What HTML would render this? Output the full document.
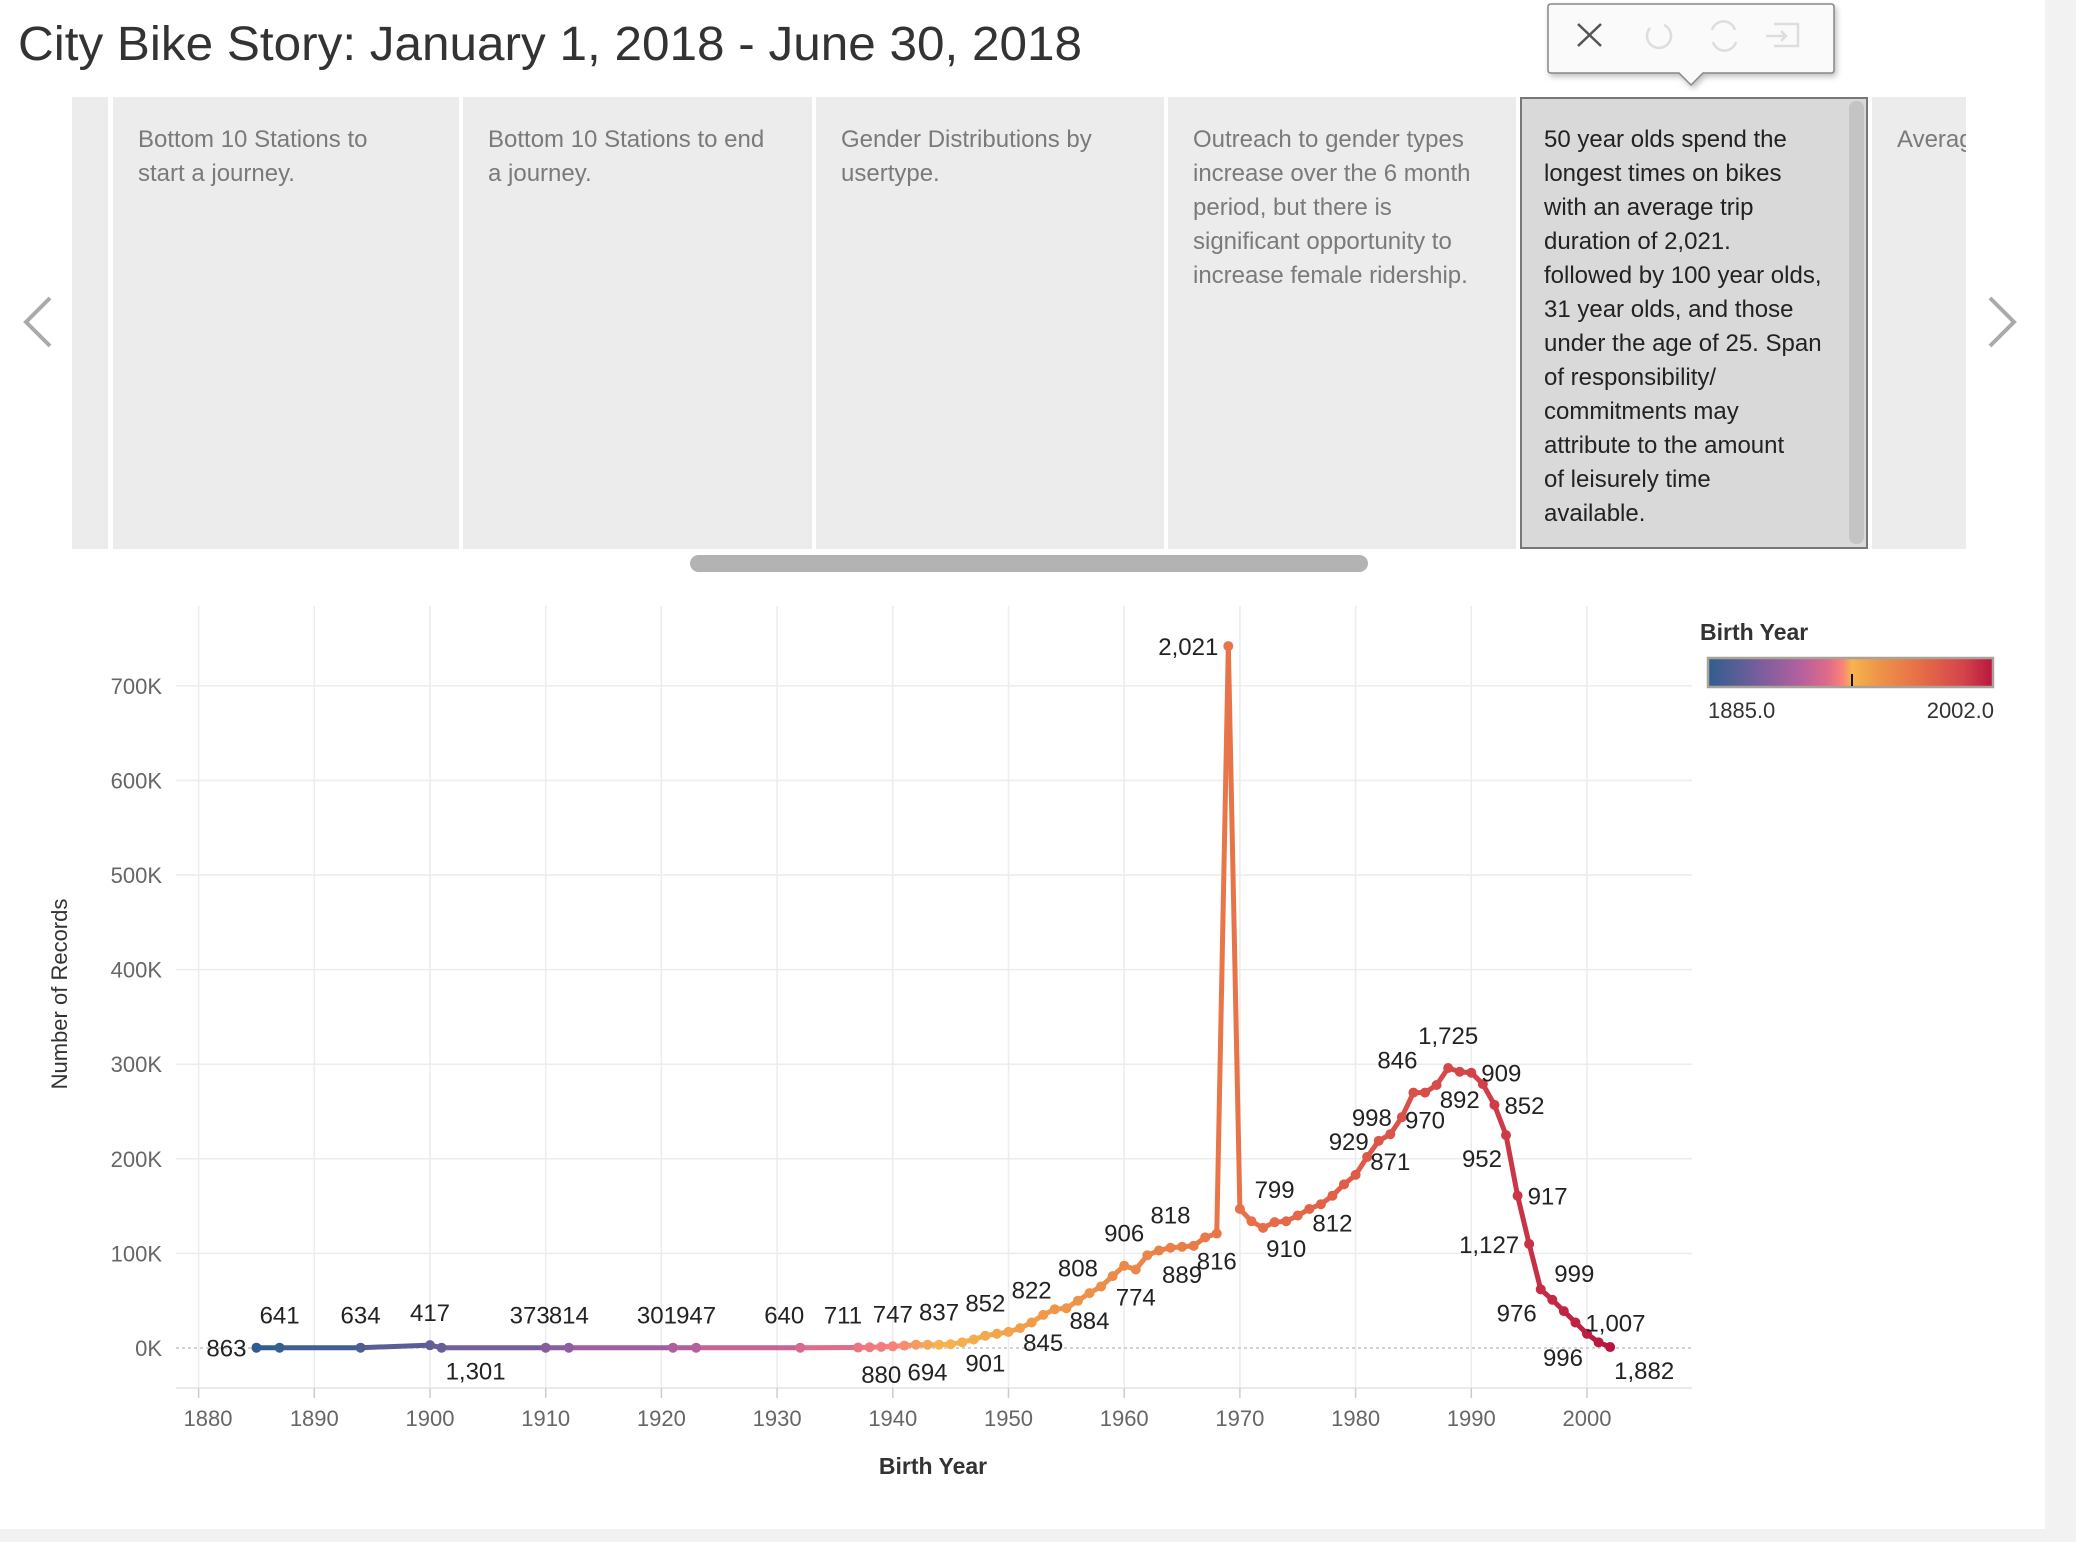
<!DOCTYPE html>
<html><head><meta charset="utf-8">
<style>
html,body{margin:0;padding:0;background:#fff;}
body{width:2076px;height:1542px;position:relative;overflow:hidden;font-family:"Liberation Sans",sans-serif;}
.abs{position:absolute;}
.panel{position:absolute;top:97px;height:452px;background:#ececec;box-sizing:border-box;padding:26px 0 0 25px;color:#7a7a7a;font-size:24px;line-height:34px;}
.sel{background:#d9d9d9;border:2px solid #777;color:#222;padding:24px 0 0 22px;}
</style></head><body>
<div class="abs" style="left:2045px;top:0;width:31px;height:1542px;background:#f2f2f2"></div>
<div class="abs" style="left:0;top:1529px;width:2076px;height:13px;background:#f2f2f2"></div>

<svg class="abs" style="left:0;top:0" width="1140" height="90">
<text x="18" y="60" font-size="48" fill="#333" textLength="1064" lengthAdjust="spacingAndGlyphs">City Bike Story: January 1, 2018 - June 30, 2018</text>
</svg>

<div class="abs" style="left:72px;top:97px;width:36px;height:452px;background:#ececec"></div>
<div class="panel" style="left:113px;width:346px">Bottom 10 Stations to<br>start a journey.</div>
<div class="panel" style="left:463px;width:349px">Bottom 10 Stations to end<br>a journey.</div>
<div class="panel" style="left:816px;width:348px">Gender Distributions by<br>usertype.</div>
<div class="panel" style="left:1168px;width:348px">Outreach to gender types<br>increase over the 6 month<br>period, but there is<br>significant opportunity to<br>increase female ridership.</div>
<div class="panel sel" style="left:1520px;width:348px">50 year olds spend the<br>longest times on bikes<br>with an average trip<br>duration of 2,021.<br>followed by 100 year olds,<br>31 year olds, and those<br>under the age of 25. Span<br>of responsibility/<br>commitments may<br>attribute to the amount<br>of leisurely time<br>available.
<div class="abs" style="left:327px;top:2px;width:15px;height:443px;background:#c4c4c4;border-radius:7px"></div></div>
<div class="panel" style="left:1872px;width:94px;overflow:hidden;white-space:nowrap">Average</div>
<div class="abs" style="left:690px;top:555px;width:678px;height:17px;background:#b3b3b3;border-radius:9px"></div>

<svg class="abs" style="left:0;top:0" width="2076" height="600">
<polyline points="50,298 26,322 50,346" fill="none" stroke="#aaa" stroke-width="4"/>
<polyline points="1990,298 2014,322 1990,346" fill="none" stroke="#aaa" stroke-width="4"/>
<g>
<path d="M1551,4 H1831 Q1834,4 1834,7 V70 Q1834,73 1831,73 H1703 L1691,85 L1679,73 H1551 Q1548,73 1548,70 V7 Q1548,4 1551,4 Z" fill="#fafafa" stroke="#888" stroke-width="1.5" style="filter:drop-shadow(2px 3px 3px rgba(0,0,0,0.25))"/>
<g stroke="#555" stroke-width="2.5"><line x1="1578" y1="24" x2="1601" y2="46"/><line x1="1601" y1="24" x2="1578" y2="46"/></g>
<path d="M1650,28 A12,12 0 1 0 1664,25" fill="none" stroke="#ddd" stroke-width="2.5"/>
<path d="M1712,30 A12,12 0 0 1 1735,30 M1736,42 A12,12 0 0 1 1713,42" fill="none" stroke="#ddd" stroke-width="2.5"/>
<path d="M1774,24 H1798 V46 H1774 M1766,36 H1786 M1781,31 L1786,36 L1781,41" fill="none" stroke="#ddd" stroke-width="2.5"/>
</g>
</svg>

<svg id="chart" class="abs" style="left:0;top:590px" width="2076" height="940"></svg>

<script>
const years = [1885,1887,1894,1900,1901,1910,1912,1921,1923,1932,1937,1938,1939,1940,1941,1942,1943,1944,1945,1946,1947,1948,1949,1950,1951,1952,1953,1954,1955,1956,1957,1958,1959,1960,1961,1962,1963,1964,1965,1966,1967,1968,1969,1970,1971,1972,1973,1974,1975,1976,1977,1978,1979,1980,1981,1982,1983,1984,1985,1986,1987,1988,1989,1990,1991,1992,1993,1994,1995,1996,1997,1998,1999,2000,2001,2002];
const records = [0.3,0.3,0.3,3,0.3,0.3,0.3,0.3,0.3,0.3,0.5,0.8,1.2,1.8,2.5,3.5,3.5,3.5,4,6,9,13,15,17,21,27,35,41,42,50,58,65,76,87,83,98,103,106,107,108,117,121,742,147,134,127,133,134,140,147,152,161,173,183,202,219,226,244,270,270,278,296,292,291,279,257,225,161,110,62,51,39,27,15,6,1];
const labelYears = [1885,1887,1894,1900,1901,1910,1912,1921,1923,1932,1937,1939,1940,1943,1944,1948,1948,1952,1953,1956,1957,1960,1961,1964,1965,1968,1969,1973,1974,1978,1982,1984,1983,1986,1985,1988,1989,1990,1992,1993,1994,1995,1997,1996,1999,2000,2002];
const labelTexts = ["863","641","634","417","1,301","373","814","301","947","640","711","880","747","694","837","852","901","822","845","808","884","906","774","818","889","816","2,021","799","910","812","929","998","871","970","846","1,725","892","909","852","952","917","1,127","999","976","1,007","996","1,882"];
const labelSides = ["l","a","a","a","br","al","a","al","a","al","al","b","a","b","a","a","b","a","b","a","b","a","b","a","b","b","l","a","b","b","l","l","b","b","al","a","b","r","r","bl","r","l","ar","bl","r","bl","br"];
const yTicks = [0,100,200,300,400,500,600,700];
const yTickLabels = ["0K","100K","200K","300K","400K","500K","600K","700K"];
const xTicks = [1880,1890,1900,1910,1920,1930,1940,1950,1960,1970,1980,1990,2000];
const legendMin = 1885, legendMax = 2002;

const NS="http://www.w3.org/2000/svg";
const svg=document.getElementById('chart');
const OY=590;
const xS=y=>198.6+(y-1880)*11.57;
const yS=v=>1348-OY-v*0.946;
function el(tag,attrs,parent){const e=document.createElementNS(NS,tag);for(const k in attrs)e.setAttribute(k,attrs[k]);(parent||svg).appendChild(e);return e;}
const stops=[[0,[47,94,142]],[0.2,[128,94,158]],[0.32,[178,96,158]],[0.42,[222,107,138]],[0.47,[249,128,121]],[0.505,[246,180,78]],[0.6,[238,148,72]],[0.75,[230,108,72]],[0.9,[211,67,74]],[1,[184,22,63]]];
function col(t){t=Math.max(0,Math.min(1,t));for(let i=1;i<stops.length;i++){if(t<=stops[i][0]){const a=stops[i-1],b=stops[i];const f=(t-a[0])/(b[0]-a[0]);return 'rgb('+a[1].map((c,j)=>Math.round(c+(b[1][j]-c)*f)).join(',')+')';}}return 'rgb(184,22,63)';}
const yc=y=>col((y-legendMin)/(legendMax-legendMin));

const grid=el('g',{});


xTicks.forEach(t=>{el('line',{x1:xS(t),x2:xS(t),y1:16,y2:798,stroke:'#ececec','stroke-width':1.5},grid);});
yTicks.forEach(t=>{if(t>0)el('line',{x1:176,x2:1692,y1:yS(t),y2:yS(t),stroke:'#ececec','stroke-width':1.5},grid);});
const zl=el('line',{x1:176,x2:1692,y1:yS(0),y2:yS(0),stroke:'#bbb','stroke-width':1.3,'stroke-dasharray':'3,3'});


el('line',{x1:176,x2:1692,y1:798,y2:798,stroke:'#e4e4e4','stroke-width':1.5});
yTicks.forEach((t,i)=>{const tx=el('text',{x:162,y:yS(t)+8,'text-anchor':'end','font-size':22,fill:'#666'});tx.textContent=yTickLabels[i];

});
xTicks.forEach(t=>{el('line',{x1:xS(t),x2:xS(t),y1:798,y2:808,stroke:'#ccc','stroke-width':1.5});const tx=el('text',{x:Math.max(xS(t),208),y:836,'text-anchor':'middle','font-size':22,fill:'#666'});tx.textContent=t;

});
const xt=el('text',{x:933,y:884,'text-anchor':'middle','font-size':23,'font-weight':'bold',fill:'#333'});xt.textContent='Birth Year';


const yt=el('text',{x:0,y:0,'text-anchor':'middle','font-size':22,fill:'#333',transform:'translate(67,404) rotate(-90)'});yt.textContent='Number of Records';


const lg=el('g',{});


for(let i=1;i<years.length;i++){el('line',{x1:xS(years[i-1]),y1:yS(records[i-1]),x2:xS(years[i]),y2:yS(records[i]),stroke:yc((years[i-1]+years[i])/2),'stroke-width':5,'stroke-linecap':'round'},lg);}
years.forEach((y,i)=>{const c=el('circle',{cx:xS(y),cy:yS(records[i]),r:5,fill:yc(y)});

});
const off={a:[0,-24,'middle'],b:[0,36,'middle'],l:[-10,9,'end'],r:[10,9,'start'],al:[4,-24,'end'],ar:[2,-18,'start'],bl:[-4,32,'end'],br:[4,32,'start']};
labelTexts.forEach((t,i)=>{const yi=years.indexOf(labelYears[i]);const o=off[labelSides[i]];const tx=el('text',{x:xS(labelYears[i])+o[0],y:yS(records[yi])+o[1],'text-anchor':o[2],'font-size':24,fill:'#222'});tx.textContent=t;

});
const lgd=el('g',{});


const lt=el('text',{x:1700,y:50,'font-size':23,'font-weight':'bold',fill:'#333'},lgd);lt.textContent='Birth Year';
const defs=el('defs',{});const gr=el('linearGradient',{id:'lgrad',x1:0,x2:1,y1:0,y2:0},defs);
stops.forEach(s=>el('stop',{offset:s[0],'stop-color':'rgb('+s[1].join(',')+')'},gr));
el('rect',{x:1708,y:68,width:285,height:29,fill:'url(#lgrad)',stroke:'#a8a398','stroke-width':2.5},lgd);
el('line',{x1:1852,x2:1852,y1:84,y2:96,stroke:'#111','stroke-width':2},lgd);
const l1=el('text',{x:1708,y:128,'font-size':22,fill:'#333'},lgd);l1.textContent=legendMin.toFixed(1);
const l2=el('text',{x:1994,y:128,'font-size':22,fill:'#333','text-anchor':'end'},lgd);l2.textContent=legendMax.toFixed(1);
</script>
</body></html>
